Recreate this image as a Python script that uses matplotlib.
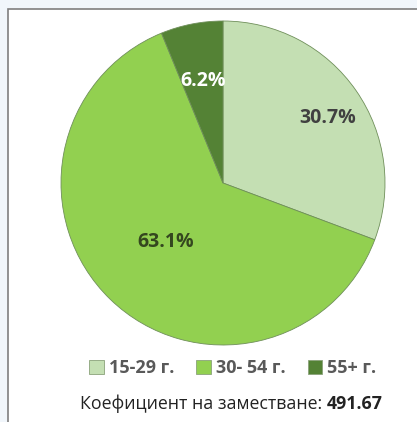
import numpy as np
import matplotlib
matplotlib.use("Agg")
import matplotlib.pyplot as plt
from matplotlib.patches import Rectangle, Patch

plt.rcParams['font.family'] = ['Open Sans', 'DejaVu Sans']

# data
groups = ['15-29 г.', '30- 54 г.', '55+ г.']
shares = [30.7, 63.1, 6.2]
ratio_label = 'Коефициент на заместване: '
ratio_value = '491.67'

colors = ['#c4dfb3', '#92d050', '#548235']
label_colors = ['#404040', '#34471f', '#ffffff']
label_dist = [0.76, 0.51, 0.64]

W, H = 417, 422
fig = plt.figure(figsize=(W / 100, H / 100), dpi=100, facecolor='#f1f6fb')

# white panel with grey border
fig.patches.append(Rectangle((8 / W, -0.1), 1.2, 1 - 9 / H + 0.1,
                             transform=fig.transFigure, facecolor='white',
                             edgecolor='#7f7f7f', linewidth=1.2, zorder=-5))

cx, cy, r = 223, 183, 162
ax = fig.add_axes([(cx - r) / W, (H - cy - r) / H, 2 * r / W, 2 * r / H])
ax.set_zorder(2)
wedges, _ = ax.pie(shares, colors=colors, startangle=90, counterclock=False,
                   wedgeprops=dict(edgecolor='#6f8f5a', linewidth=0.6))
ax.set_xlim(-1, 1)
ax.set_ylim(-1, 1)
ax.set_aspect('equal')
ax.axis('off')

for w, s, d, c in zip(wedges, shares, label_dist, label_colors):
    ang = np.deg2rad((w.theta1 + w.theta2) / 2)
    if s == shares[0]:
        ang -= np.deg2rad(3)
    ax.text(d * np.cos(ang), d * np.sin(ang), '%.1f%%' % s, color=c,
            fontsize=14, fontweight='bold', ha='center', va='center')

handles = [Patch(facecolor=c, edgecolor='#8aa27a', linewidth=0.6) for c in colors]
leg = fig.legend(handles, groups, loc='center', bbox_to_anchor=(233 / W, 1 - 368 / H),
                 ncol=3, frameon=False, handlelength=0.8, handleheight=0.8,
                 handletextpad=0.3, columnspacing=1.2,
                 prop=dict(weight='bold', size=13))
for t in leg.get_texts():
    t.set_color('#595959')

t1 = fig.text(80 / W, 1 - 404 / H, ratio_label, fontsize=12.8, color='#222222',
              ha='left', va='center')
fig.canvas.draw()
bb = t1.get_window_extent()
fig.text(bb.x1 / W, 1 - 404 / H, ratio_value, fontsize=12.8, fontweight='bold',
         color='#222222', ha='left', va='center')

fig.savefig('out.png', dpi=100, facecolor=fig.get_facecolor())
